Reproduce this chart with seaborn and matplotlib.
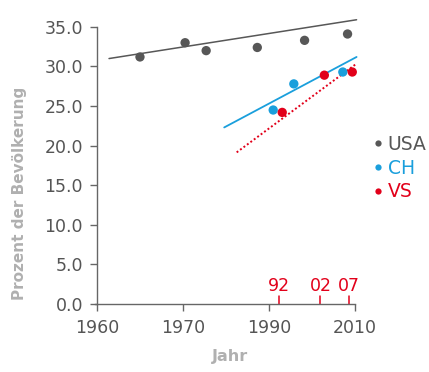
import matplotlib
matplotlib.use("Agg")
import matplotlib.pyplot as plt
import seaborn as sns
import pandas as pd
from matplotlib.lines import Line2D

# ---- data ----
usa_years = [1960.0, 1970.5, 1975.4, 1987.3, 1998.3, 2008.3]
usa_vals = [31.2, 33.0, 32.0, 32.4, 33.3, 34.1]
ch_years = [1991.0, 1995.8, 2007.2]
ch_vals = [24.5, 27.8, 29.3]
vs_years = [1993.1, 2002.9, 2009.4]
vs_vals = [24.2, 28.9, 29.3]

# trend lines (start / end)
usa_trend_years = [1952.8, 2010.4]
usa_trend_vals = [31.0, 35.9]
ch_trend_years = [1979.6, 2010.4]
ch_trend_vals = [22.3, 31.2]
vs_trend_years = [1982.5, 2010.5]
vs_trend_vals = [19.15, 30.4]

# special survey-year markers
survey_pos = [1992.4, 2002.0, 2008.6]
survey_labels = ["92", "02", "07"]

x_tick_pos = [1950, 1970, 1990, 2010]
x_tick_labels = ["1960", "1970", "1990", "2010"]
y_ticks = [0, 5, 10, 15, 20, 25, 30, 35]

countries = ["USA", "CH", "VS"]
colors = {"USA": "#575757", "CH": "#1a9fdc", "VS": "#e2001a"}

# ---- build frames ----
pts = pd.DataFrame({
    "Jahr": usa_years + ch_years + vs_years,
    "Wert": usa_vals + ch_vals + vs_vals,
    "Land": ["USA"] * len(usa_years) + ["CH"] * len(ch_years) + ["VS"] * len(vs_years),
})
trends = {
    "USA": (usa_trend_years, usa_trend_vals, "-", 1.1),
    "CH": (ch_trend_years, ch_trend_vals, "-", 1.3),
    "VS": (vs_trend_years, vs_trend_vals, (0, (1, 1.2)), 1.4),
}

sns.set_style("white")
plt.rcParams["font.family"] = ["DejaVu Sans"]

fig = plt.figure(figsize=(4.29, 3.72), dpi=100)
ax = fig.add_axes([97 / 429, 68 / 372, 260 / 429, 289 / 372])

for land in countries:
    xs, ys, ls, lw = trends[land]
    tdf = pd.DataFrame({"Jahr": xs, "Wert": ys})
    sns.lineplot(data=tdf, x="Jahr", y="Wert", ax=ax, color=colors[land],
                 linestyle=ls, linewidth=lw, legend=False, clip_on=False)

sns.scatterplot(data=pts, x="Jahr", y="Wert", hue="Land", hue_order=countries,
                palette=colors, s=45, edgecolor="none", ax=ax, legend=False,
                zorder=5, clip_on=False)

ax.set_xlim(1950.7, 2010.5)
ax.set_ylim(0, 36.5)
ax.spines["top"].set_visible(False)
ax.spines["right"].set_visible(False)
ax.spines["left"].set_bounds(0, 35)
ax.spines["bottom"].set_bounds(1949.6, 2010)
for s in ("left", "bottom"):
    ax.spines[s].set_color("#666666")
    ax.spines[s].set_linewidth(1.0)

ax.set_yticks(y_ticks)
ax.set_yticklabels([f"{v:.1f}" for v in y_ticks])
ax.set_xticks(x_tick_pos)
ax.set_xticklabels(x_tick_labels)
ax.tick_params(axis="both", which="major", bottom=True, left=True, direction="out",
               length=5, width=1.0, color="#666666", labelcolor="#555555",
               labelsize=12.5)
ax.tick_params(axis="x", pad=6)
ax.tick_params(axis="y", pad=5)

# red survey markers on the x axis
for pos, lab in zip(survey_pos, survey_labels):
    ax.plot([pos, pos], [0, 1.0], color=colors["VS"], linewidth=1.1, clip_on=False)
    ax.text(pos, 1.1, lab, color=colors["VS"], fontsize=12.5, ha="center", va="bottom")

ax.set_xlabel("Jahr", fontsize=11.5, fontweight="bold", color="#b0b0b0")
ax.xaxis.set_label_coords((230 - 97) / 260, -(357 - 304) / 289)
ax.set_ylabel("Prozent der Bevölkerung", fontsize=11, fontweight="bold", color="#b0b0b0")
ax.yaxis.set_label_coords((20 - 97) / 260, (304 - 193) / 289)
ax.yaxis.label.set_va("center")
ax.xaxis.label.set_va("center")

# legend
handles = [Line2D([], [], marker="o", linestyle="none", markersize=4.5,
                  markerfacecolor=colors[c], markeredgecolor="none") for c in countries]
leg = fig.legend(handles, countries, loc="upper left",
                 bbox_to_anchor=(369 / 429, 1 - 135 / 372),
                 frameon=False, fontsize=13.5, handletextpad=0.0, labelspacing=0.25,
                 handlelength=1.0, borderaxespad=0, borderpad=0)
for t, c in zip(leg.get_texts(), countries):
    t.set_color(colors[c])

fig.savefig("out.png", dpi=100)
